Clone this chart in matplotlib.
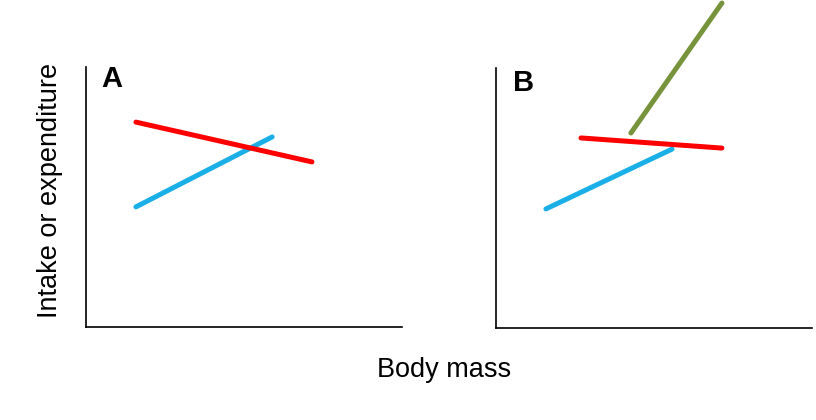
import matplotlib
matplotlib.use("Agg")
import matplotlib.pyplot as plt

plt.rcParams['font.family'] = ['Liberation Sans', 'DejaVu Sans']

# panel A
a_red_x = [15.8, 71.5]
a_red_y = [78.8, 63.5]
a_blue_x = [15.8, 58.9]
a_blue_y = [46.2, 73.1]

# panel B
b_red_x = [26.9, 71.5]
b_red_y = [73.1, 69.2]
b_blue_x = [15.8, 55.7]
b_blue_y = [45.8, 68.8]
b_green_x = [42.7, 71.5]
b_green_y = [75.0, 125.0]

red = '#FF0000'
blue = '#1AAFE6'
green = '#77933C'
W, H = 816, 420

fig = plt.figure(figsize=(8.16, 4.2), dpi=100)
axA = fig.add_axes([86 / W, 1 - 327 / H, 316 / W, 260 / H])
axB = fig.add_axes([496 / W, 1 - 328 / H, 316 / W, 260 / H])

for ax in (axA, axB):
    ax.set_xlim(0, 100)
    ax.set_ylim(0, 100)
    ax.set_xticks([])
    ax.set_yticks([])
    ax.spines['top'].set_visible(False)
    ax.spines['right'].set_visible(False)
    ax.spines['left'].set_linewidth(1.2)
    ax.spines['bottom'].set_linewidth(1.2)

lw = 3.6
axA.plot(a_blue_x, a_blue_y, color=blue, lw=lw, solid_capstyle='round')
axA.plot(a_red_x, a_red_y, color=red, lw=lw, solid_capstyle='round')
axB.plot(b_blue_x, b_blue_y, color=blue, lw=lw, solid_capstyle='round')
axB.plot(b_red_x, b_red_y, color=red, lw=lw, solid_capstyle='round')
axB.plot(b_green_x, b_green_y, color=green, lw=lw, solid_capstyle='round', clip_on=False)

axA.text(4.8, 100.8, 'A', fontsize=21, fontweight='bold', va='top', ha='left')
axB.text(5.4, 99.6, 'B', fontsize=21, fontweight='bold', va='top', ha='left')

fig.text(50 / W, 1 - 190 / H, 'Intake or expenditure', rotation=90,
         fontsize=19.5, ha='center', va='center')
fig.text(444.5 / W, 1 - 370 / H, 'Body mass', fontsize=19.5, ha='center', va='center')

fig.savefig('out.png', dpi=100)
